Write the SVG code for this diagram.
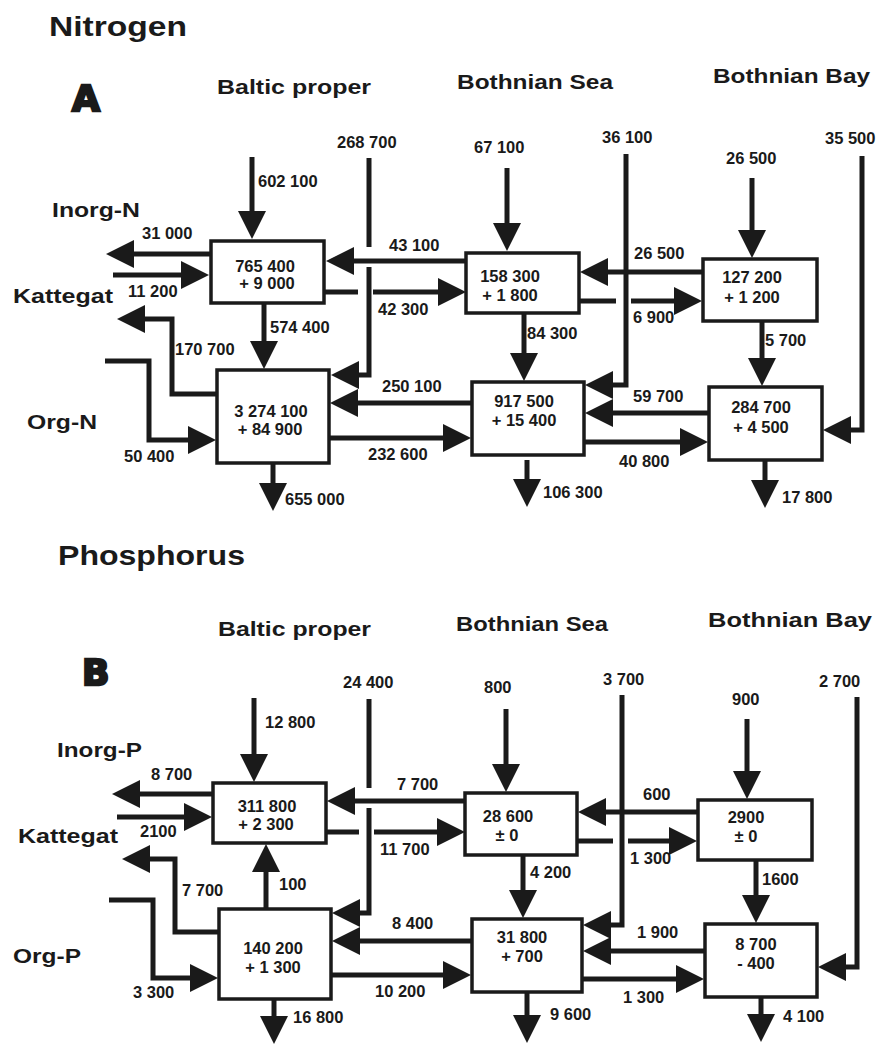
<svg xmlns="http://www.w3.org/2000/svg" width="877" height="1044" viewBox="0 0 877 1044">
<style>
text{font-family:"Liberation Sans",Arial,sans-serif;font-weight:bold;fill:#1a1a1a}
.t{font-size:21px}
.h{font-size:28px}
.r{font-size:21px}
.n{font-size:16.5px}
.c{font-size:16.5px;text-anchor:middle}
.big{font-family:"DejaVu Sans",sans-serif;font-size:36px;stroke:#1a1a1a;stroke-width:2.5}
.box{fill:#fff;stroke:#1a1a1a;stroke-width:3.5}
.ln{fill:none;stroke:#1a1a1a;stroke-width:5}
.ar{fill:none;stroke:#1a1a1a;stroke-width:5;marker-end:url(#ah)}
</style>
<defs>
<marker id="ah" markerUnits="userSpaceOnUse" markerWidth="28" markerHeight="28" viewBox="0 0 28 28" refX="8" refY="14" orient="auto">
<path d="M0,0 L28,14 L0,28 z" fill="#1a1a1a"/>
</marker>
</defs>
<rect width="877" height="1044" fill="#fff"/>
<g id="labels">
<text class="h" x="49" y="36" textLength="138" lengthAdjust="spacingAndGlyphs">Nitrogen</text>
<text class="big" x="72" y="111">A</text>
<text class="t" x="217" y="94" textLength="154" lengthAdjust="spacingAndGlyphs">Baltic proper</text>
<text class="t" x="457" y="89" textLength="156" lengthAdjust="spacingAndGlyphs">Bothnian Sea</text>
<text class="t" x="713" y="83" textLength="157" lengthAdjust="spacingAndGlyphs">Bothnian Bay</text>
<text class="r" x="52" y="217" textLength="88" lengthAdjust="spacingAndGlyphs">Inorg-N</text>
<text class="r" x="13" y="303" textLength="100" lengthAdjust="spacingAndGlyphs">Kattegat</text>
<text class="r" x="27" y="429" textLength="70" lengthAdjust="spacingAndGlyphs">Org-N</text>
<text class="h" x="58" y="565" textLength="187" lengthAdjust="spacingAndGlyphs">Phosphorus</text>
<text class="big" x="82" y="685">B</text>
<text class="t" x="218" y="636" textLength="153" lengthAdjust="spacingAndGlyphs">Baltic proper</text>
<text class="t" x="456" y="631" textLength="152" lengthAdjust="spacingAndGlyphs">Bothnian Sea</text>
<text class="t" x="708" y="627" textLength="164" lengthAdjust="spacingAndGlyphs">Bothnian Bay</text>
<text class="r" x="57" y="757" textLength="85" lengthAdjust="spacingAndGlyphs">Inorg-P</text>
<text class="r" x="18" y="843" textLength="100" lengthAdjust="spacingAndGlyphs">Kattegat</text>
<text class="r" x="13" y="963" textLength="68" lengthAdjust="spacingAndGlyphs">Org-P</text>
</g>
<g id="connectors">
<path class="ar" d="M252,157 V219"/>
<path class="ln" d="M369,158 V247"/>
<path class="ar" d="M369,267 V375 H351"/>
<path class="ar" d="M211,254 H126"/>
<path class="ar" d="M113,275 H189"/>
<path class="ar" d="M466,261 H346"/>
<path class="ln" d="M324,292 H358"/>
<path class="ar" d="M373,292 H446"/>
<path class="ar" d="M264,303 V349"/>
<path class="ar" d="M217,394 H172 V319 H137"/>
<path class="ar" d="M105,361 H149 V440 H196"/>
<path class="ar" d="M472,403 H350"/>
<path class="ar" d="M329,438 H451"/>
<path class="ar" d="M273,463 V491"/>
<path class="ar" d="M507,168 V231"/>
<path class="ar" d="M626,154 V385 H605"/>
<path class="ar" d="M703,272 H600"/>
<path class="ln" d="M579,301 H616"/>
<path class="ar" d="M631,301 H682"/>
<path class="ar" d="M524,313 V361"/>
<path class="ar" d="M709,413 H605"/>
<path class="ar" d="M584,442 H688"/>
<path class="ar" d="M527,460 V487"/>
<path class="ar" d="M752,178 V238"/>
<path class="ar" d="M862,156 V430 H843"/>
<path class="ar" d="M762,321 V366"/>
<path class="ar" d="M765,460 V488"/>
<path class="ar" d="M254,698 V762"/>
<path class="ln" d="M369,699 V788"/>
<path class="ar" d="M369,808 V913 H352"/>
<path class="ar" d="M213,794 H132"/>
<path class="ar" d="M117,817 H192"/>
<path class="ar" d="M219,932 H175 V859 H142"/>
<path class="ar" d="M266,909 V864"/>
<path class="ar" d="M109,900 H153 V978 H198"/>
<path class="ar" d="M274,999 V1024"/>
<path class="ar" d="M465,801 H347"/>
<path class="ln" d="M326,832 H359"/>
<path class="ar" d="M374,832 H445"/>
<path class="ar" d="M472,941 H352"/>
<path class="ar" d="M331,975 H451"/>
<path class="ar" d="M506,709 V772"/>
<path class="ar" d="M622,695 V925 H603"/>
<path class="ar" d="M747,719 V779"/>
<path class="ar" d="M857,697 V967 H838"/>
<path class="ar" d="M698,812 H598"/>
<path class="ln" d="M577,841 H613"/>
<path class="ar" d="M628,841 H677"/>
<path class="ar" d="M523,855 V898"/>
<path class="ar" d="M756,860 V903"/>
<path class="ar" d="M705,951 H603"/>
<path class="ar" d="M582,979 H684"/>
<path class="ar" d="M527,992 V1023"/>
<path class="ar" d="M761,997 V1022"/>
</g>
<g id="flow-labels">
<text class="n" x="337" y="148">268 700</text>
<text class="n" x="258" y="187">602 100</text>
<text class="n" x="142" y="239">31 000</text>
<text class="n" x="389" y="251">43 100</text>
<text class="n" x="128" y="297">11 200</text>
<text class="n" x="378" y="315">42 300</text>
<text class="n" x="270" y="333">574 400</text>
<text class="n" x="175" y="355">170 700</text>
<text class="n" x="124" y="462">50 400</text>
<text class="n" x="382" y="392">250 100</text>
<text class="n" x="368" y="460">232 600</text>
<text class="n" x="285" y="505">655 000</text>
<text class="n" x="474" y="153">67 100</text>
<text class="n" x="602" y="143">36 100</text>
<text class="n" x="634" y="259">26 500</text>
<text class="n" x="633" y="323">6 900</text>
<text class="n" x="527" y="339">84 300</text>
<text class="n" x="633" y="402">59 700</text>
<text class="n" x="619" y="467">40 800</text>
<text class="n" x="543" y="498">106 300</text>
<text class="n" x="726" y="164">26 500</text>
<text class="n" x="825" y="144">35 500</text>
<text class="n" x="765" y="346">5 700</text>
<text class="n" x="782" y="503">17 800</text>
<text class="n" x="343" y="688">24 400</text>
<text class="n" x="265" y="728">12 800</text>
<text class="n" x="151" y="780">8 700</text>
<text class="n" x="140" y="837">2100</text>
<text class="n" x="182" y="896">7 700</text>
<text class="n" x="279" y="890">100</text>
<text class="n" x="133" y="998">3 300</text>
<text class="n" x="293" y="1023">16 800</text>
<text class="n" x="397" y="790">7 700</text>
<text class="n" x="380" y="855">11 700</text>
<text class="n" x="392" y="929">8 400</text>
<text class="n" x="375" y="997">10 200</text>
<text class="n" x="484" y="693">800</text>
<text class="n" x="603" y="685">3 700</text>
<text class="n" x="732" y="705">900</text>
<text class="n" x="819" y="687">2 700</text>
<text class="n" x="643" y="800">600</text>
<text class="n" x="630" y="864">1 300</text>
<text class="n" x="530" y="878">4 200</text>
<text class="n" x="762" y="885">1600</text>
<text class="n" x="637" y="938">1 900</text>
<text class="n" x="623" y="1003">1 300</text>
<text class="n" x="550" y="1020">9 600</text>
<text class="n" x="783" y="1022">4 100</text>
</g>
<g id="n-baltic-inorg"><rect class="box" x="211" y="241" width="113" height="62"/><text class="c" x="265" y="272">765 400</text><text class="c" x="267" y="289">+ 9 000</text></g>
<g id="n-baltic-org"><rect class="box" x="217" y="370" width="112" height="93"/><text class="c" x="271" y="417">3 274 100</text><text class="c" x="270" y="435">+ 84 900</text></g>
<g id="n-sea-inorg"><rect class="box" x="466" y="253" width="113" height="60"/><text class="c" x="510" y="282">158 300</text><text class="c" x="510" y="301">+ 1 800</text></g>
<g id="n-bay-inorg"><rect class="box" x="703" y="259" width="114" height="62"/><text class="c" x="752" y="283">127 200</text><text class="c" x="752" y="303">+ 1 200</text></g>
<g id="n-sea-org"><rect class="box" x="472" y="382" width="112" height="73"/><text class="c" x="524" y="407">917 500</text><text class="c" x="524" y="426">+ 15 400</text></g>
<g id="n-bay-org"><rect class="box" x="709" y="387" width="113" height="73"/><text class="c" x="761" y="413">284 700</text><text class="c" x="761" y="433">+ 4 500</text></g>
<g id="p-baltic-inorg"><rect class="box" x="213" y="783" width="113" height="60"/><text class="c" x="267" y="812">311 800</text><text class="c" x="266" y="830">+ 2 300</text></g>
<g id="p-baltic-org"><rect class="box" x="219" y="909" width="112" height="90"/><text class="c" x="273" y="954">140 200</text><text class="c" x="273" y="973">+ 1 300</text></g>
<g id="p-sea-inorg"><rect class="box" x="465" y="793" width="112" height="62"/><text class="c" x="508" y="822">28 600</text><text class="c" x="507" y="841">± 0</text></g>
<g id="p-bay-inorg"><rect class="box" x="698" y="800" width="114" height="60"/><text class="c" x="746" y="823">2900</text><text class="c" x="746" y="842">± 0</text></g>
<g id="p-sea-org"><rect class="box" x="472" y="919" width="110" height="73"/><text class="c" x="522" y="943">31 800</text><text class="c" x="522" y="962">+ 700</text></g>
<g id="p-bay-org"><rect class="box" x="705" y="924" width="112" height="73"/><text class="c" x="756" y="950">8 700</text><text class="c" x="756" y="969">- 400</text></g>
</svg>
